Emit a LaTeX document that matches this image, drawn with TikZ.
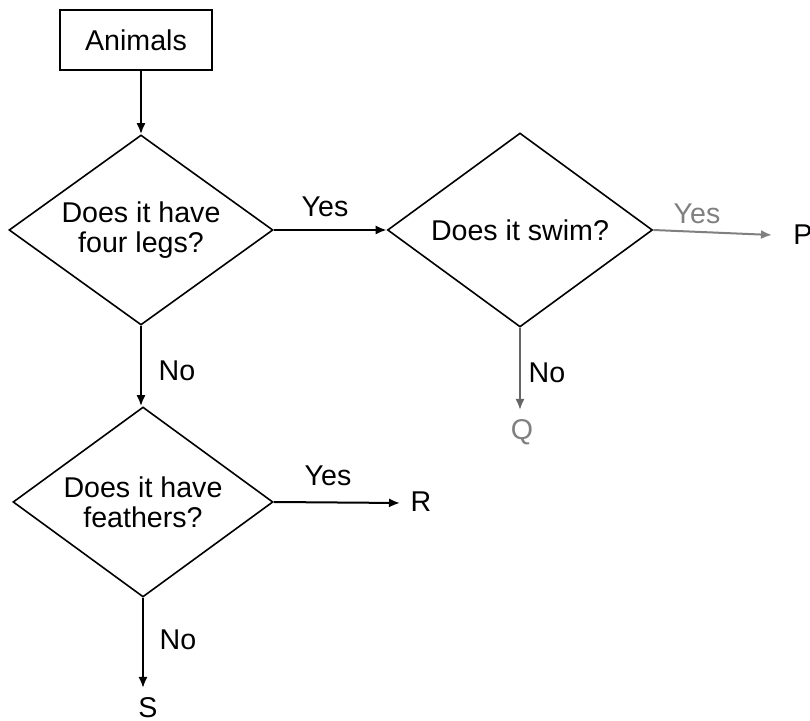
\documentclass[tikz,border=0pt]{standalone}
\usepackage{fontspec}
\setmainfont{Liberation Sans}
\usetikzlibrary{shapes.geometric,arrows.meta}
\begin{document}
\begin{tikzpicture}[x=0.5pt,y=-0.5pt,
  every node/.style={font=\fontsize{14.3}{15}\selectfont},
  dec/.style={draw, diamond, aspect=1.39, inner sep=0pt, line width=0.8pt, align=center},
  conn/.style={line width=1pt, -{Latex[length=5.5pt,width=4.5pt]}},
  lbl/.style={inner sep=0pt}]
\useasboundingbox (0,0) rectangle (810,721);
\node[draw, line width=0.8pt, minimum width=76pt, minimum height=30pt, inner sep=0pt] (anim) at (136,40) {Animals};
\node[dec, minimum width=132pt, minimum height=95pt] (d1) at (141,230) {Does it have\\four legs?};
\node[dec, minimum width=132.5pt, minimum height=97pt] (d2) at (520,230) {Does it swim?};
\node[dec, minimum width=130pt, minimum height=95pt] (d3) at (143,502) {Does it have\\feathers?};
\node[lbl] (P) at (803,235) {P};
\node[lbl, text=gray] (Q) at (522,432) {Q};
\node[lbl] (R) at (421,502) {R};
\node[lbl] (S) at (148,708) {S};
\coordinate (pEnd) at (772,235);
\coordinate (qEnd) at (522,410);
\coordinate (rEnd) at (400,503);
\coordinate (sEnd) at (146,688);
\draw[conn] (d1.north |- anim.south) -- (d1.north);
\draw[conn] (d1.east) -- (d2.west);
\draw[conn] (d1.south) -- (d1.south |- d3.north);
\draw[conn, gray] (d2.east) -- (pEnd);
\draw[conn, gray!80!black] (d2.south) -- (d2.south |- qEnd);
\draw[conn] (d3.east) -- (rEnd);
\draw[conn] (d3.south) -- (d3.south |- sEnd);
\node[lbl] (y1) at (325,207) {Yes};
\node[lbl, text=gray] (y2) at (697,214) {Yes};
\node[lbl] (y3) at (328,476) {Yes};
\node[lbl] (n1) at (177,371) {No};
\node[lbl] (n2) at (547,373) {No};
\node[lbl] (n3) at (178,640) {No};
\end{tikzpicture}
\end{document}
